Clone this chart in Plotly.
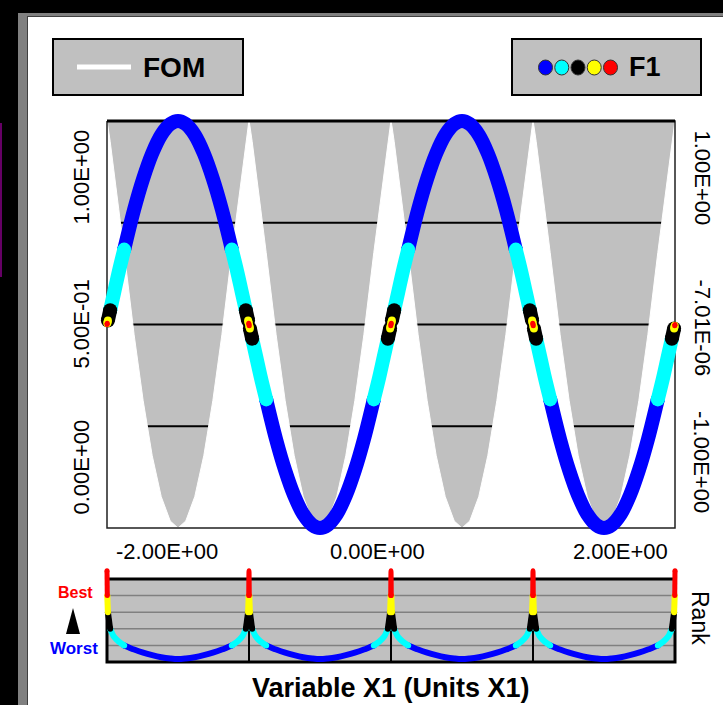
import plotly.graph_objects as go

W, H = 723, 705
FONT = "Liberation Sans, Arial, sans-serif"

# ---------------- data ----------------
x1 = [
    -3.1416, -3.1386, -3.1316, -3.1066, -3.0616, -3.0116, -2.9516, -2.8416, -2.7416, -2.6416, -2.5416, -2.4416, -2.3562,
    -2.2708, -2.1708, -2.0708, -1.9708, -1.8708, -1.7608, -1.7008, -1.6508, -1.6058, -1.5808, -1.5738,
    -1.5708, -1.5678, -1.5608, -1.5358, -1.4908, -1.4408, -1.3808, -1.2708, -1.1708, -1.0708, -0.9708, -0.8708, -0.7854,
    -0.7, -0.6, -0.5, -0.4, -0.3, -0.19, -0.13, -0.08, -0.035, -0.01, -0.003,
    0.0, 0.003, 0.01, 0.035, 0.08, 0.13, 0.19, 0.3, 0.4, 0.5, 0.6, 0.7, 0.7854,
    0.8708, 0.9708, 1.0708, 1.1708, 1.2708, 1.3808, 1.4408, 1.4908, 1.5358, 1.5608, 1.5678,
    1.5708, 1.5738, 1.5808, 1.6058, 1.6508, 1.7008, 1.7608, 1.8708, 1.9708, 2.0708, 2.1708, 2.2708, 2.3562,
    2.4416, 2.5416, 2.6416, 2.7416, 2.8416, 2.9516, 3.0116, 3.0616, 3.1066, 3.1316, 3.1386,
    3.1416,
]
f1 = [
    0.0, 0.006, 0.02, 0.07, 0.159, 0.259, 0.368, 0.565, 0.717, 0.841, 0.932, 0.985, 1.0,
    0.985, 0.932, 0.841, 0.717, 0.565, 0.368, 0.259, 0.159, 0.07, 0.02, 0.006,
    0.0, -0.006, -0.02, -0.07, -0.159, -0.259, -0.368, -0.565, -0.717, -0.841, -0.932, -0.985, -1.0,
    -0.985, -0.932, -0.841, -0.717, -0.565, -0.368, -0.259, -0.159, -0.07, -0.02, -0.006,
    0.0, 0.006, 0.02, 0.07, 0.159, 0.259, 0.368, 0.565, 0.717, 0.841, 0.932, 0.985, 1.0,
    0.985, 0.932, 0.841, 0.717, 0.565, 0.368, 0.259, 0.159, 0.07, 0.02, 0.006,
    0.0, -0.006, -0.02, -0.07, -0.159, -0.259, -0.368, -0.565, -0.717, -0.841, -0.932, -0.985, -1.0,
    -0.985, -0.932, -0.841, -0.717, -0.565, -0.368, -0.259, -0.159, -0.07, -0.02, -0.006,
    0.0,
]
fom = [
    1.0, 0.997, 0.988, 0.950, 0.875, 0.783, 0.677, 0.475, 0.313, 0.178, 0.077, 0.017, 0.0,
    0.017, 0.077, 0.178, 0.313, 0.475, 0.677, 0.783, 0.875, 0.950, 0.988, 0.997,
    1.0, 0.997, 0.988, 0.950, 0.875, 0.783, 0.677, 0.475, 0.313, 0.178, 0.077, 0.017, 0.0,
    0.017, 0.077, 0.178, 0.313, 0.475, 0.677, 0.783, 0.875, 0.950, 0.988, 0.997,
    1.0, 0.997, 0.988, 0.950, 0.875, 0.783, 0.677, 0.475, 0.313, 0.178, 0.077, 0.017, 0.0,
    0.017, 0.077, 0.178, 0.313, 0.475, 0.677, 0.783, 0.875, 0.950, 0.988, 0.997,
    1.0, 0.997, 0.988, 0.950, 0.875, 0.783, 0.677, 0.475, 0.313, 0.178, 0.077, 0.017, 0.0,
    0.017, 0.077, 0.178, 0.313, 0.475, 0.677, 0.783, 0.875, 0.950, 0.988, 0.997,
    1.0,
]
rank = [
    1.10, 0.80, 0.60, 0.40, 0.30, 0.245, 0.20, 0.15, 0.112, 0.082, 0.058, 0.042, 0.035,
    0.042, 0.058, 0.082, 0.112, 0.15, 0.20, 0.245, 0.30, 0.40, 0.60, 0.80,
    1.10, 0.80, 0.60, 0.40, 0.30, 0.245, 0.20, 0.15, 0.112, 0.082, 0.058, 0.042, 0.035,
    0.042, 0.058, 0.082, 0.112, 0.15, 0.20, 0.245, 0.30, 0.40, 0.60, 0.80,
    1.10, 0.80, 0.60, 0.40, 0.30, 0.245, 0.20, 0.15, 0.112, 0.082, 0.058, 0.042, 0.035,
    0.042, 0.058, 0.082, 0.112, 0.15, 0.20, 0.245, 0.30, 0.40, 0.60, 0.80,
    1.10, 0.80, 0.60, 0.40, 0.30, 0.245, 0.20, 0.15, 0.112, 0.082, 0.058, 0.042, 0.035,
    0.042, 0.058, 0.082, 0.112, 0.15, 0.20, 0.245, 0.30, 0.40, 0.60, 0.80,
    1.10,
]

band_colors = ["#0000FF", "#00FFFF", "#000000", "#FFFF00", "#FF0000"]   # worst -> best
band_edges = [0.2, 0.4, 0.6, 0.8]
crossings = [-1.5708, 0.0, 1.5708]

x_tick_vals = [-2.0, 0.0, 2.0]
x_tick_text = ["-2.00E+00", "0.00E+00", "2.00E+00"]
fom_tick_vals = [0.0, 0.5, 1.0]
fom_tick_text = ["0.00E+00", "5.00E-01", "1.00E+00"]
f1_tick_vals = [-1.0, 0.0, 1.0]
f1_tick_text = ["-1.00E+00", "-7.01E-06", "1.00E+00"]
fom_grid = [0.25, 0.5, 0.75]
rank_grid = [0.2, 0.4, 0.6, 0.8]

# ---------------- geometry helpers ----------------
def PX(px):
    return px / W

def PY(py):
    return 1 - py / H

XMIN, XMAX = x1[0], x1[-1]
FR_L, FR_R = 107, 675           # main frame, pixels
FR_T, FR_B = 121, 528
RK_T, RK_B = 579, 662           # rank frame
PAD = 10
sx = (FR_R - FR_L) / (XMAX - XMIN)
sy = (FR_B - FR_T) / 1.0
sr = (RK_B - RK_T) / 1.0

fig = go.Figure()

# FOM white fill
fig.add_trace(go.Scatter(x=x1, y=fom, mode="lines", fill="tozeroy", fillcolor="white",
                         line=dict(color="white", width=1), xaxis="x", yaxis="y",
                         hoverinfo="skip", showlegend=False))
# main frame (drawn over the fill, under the curve)
fig.add_trace(go.Scatter(x=[XMIN, XMAX, XMAX, XMIN, XMIN], y=[1, 1, 0, 0, 1], mode="lines",
                         line=dict(color="#202020", width=1.5), xaxis="x", yaxis="y",
                         hoverinfo="skip", showlegend=False))
fig.add_trace(go.Scatter(x=[XMIN, XMAX], y=[1, 1], mode="lines",
                         line=dict(color="black", width=3), xaxis="x", yaxis="y",
                         hoverinfo="skip", showlegend=False))
# rank frame
fig.add_trace(go.Scatter(x=[XMIN, XMAX, XMAX, XMIN, XMIN], y=[1, 1, 0, 0, 1], mode="lines",
                         line=dict(color="black", width=3), xaxis="x2", yaxis="y3",
                         hoverinfo="skip", showlegend=False))


def band_of(v):
    b = 0
    for e in band_edges:
        if v >= e - 1e-9:
            b += 1
    return b


# runs of equal band
runs = []
for i in range(len(x1) - 1):
    b = band_of(min(rank[i], rank[i + 1]))
    if runs and runs[-1][0] == b and runs[-1][2] == i:
        runs[-1][2] = i + 1
    else:
        runs.append([b, i, i + 1])

main_w = [14, 14, 14, 8, 5]
rank_w = [6, 6, 6, 6, 5]


def add_run(xs, ys, c, w, xa, ya):
    fig.add_trace(go.Scatter(x=xs, y=ys, mode="lines", line=dict(color=c, width=w, shape="spline"),
                             xaxis=xa, yaxis=ya, hoverinfo="skip", showlegend=False))
    fig.add_trace(go.Scatter(x=[xs[0], xs[-1]], y=[ys[0], ys[-1]], mode="markers",
                             marker=dict(color=c, size=w, line=dict(width=0)),
                             xaxis=xa, yaxis=ya, cliponaxis=False, hoverinfo="skip", showlegend=False))


for b in range(5):
    for rb, s, e in runs:
        if rb == b:
            add_run(x1[s:e + 1], f1[s:e + 1], band_colors[b], main_w[b], "x", "y2")
for b in range(5):
    for rb, s, e in runs:
        if rb == b:
            add_run(x1[s:e + 1], rank[s:e + 1], band_colors[b], rank_w[b], "x2", "y3")

shapes = []
# window chrome
shapes.append(dict(type="rect", xref="paper", yref="paper", x0=PX(18), x1=PX(723), y0=PY(705), y1=PY(13),
                   fillcolor="#808080", line=dict(width=0), layer="below"))
shapes.append(dict(type="rect", xref="paper", yref="paper", x0=PX(27), x1=PX(723), y0=PY(705), y1=PY(16),
                   fillcolor="#404040", line=dict(width=0), layer="below"))
shapes.append(dict(type="rect", xref="paper", yref="paper", x0=PX(28), x1=PX(723), y0=PY(705), y1=PY(17),
                   fillcolor="white", line=dict(width=0), layer="below"))
shapes.append(dict(type="rect", xref="paper", yref="paper", x0=PX(0), x1=PX(2), y0=PY(277), y1=PY(123),
                   fillcolor="#660066", line=dict(width=0), layer="below"))
# main plot gray background + grid
shapes.append(dict(type="rect", xref="x", yref="y", x0=XMIN, x1=XMAX, y0=0, y1=1,
                   fillcolor="#C0C0C0", line=dict(width=0), layer="below"))
for g in fom_grid:
    shapes.append(dict(type="line", xref="x", yref="y", x0=XMIN, x1=XMAX, y0=g, y1=g,
                       line=dict(color="black", width=2), layer="below"))
# rank panel background + grid + crossing lines
shapes.append(dict(type="rect", xref="x2", yref="y3", x0=XMIN, x1=XMAX, y0=0, y1=1,
                   fillcolor="#C0C0C0", line=dict(width=0), layer="below"))
for g in rank_grid:
    shapes.append(dict(type="line", xref="x2", yref="y3", x0=XMIN, x1=XMAX, y0=g, y1=g,
                       line=dict(color="#808080", width=1.5), layer="below"))
for cx in crossings:
    shapes.append(dict(type="line", xref="x2", yref="y3", x0=cx, x1=cx, y0=0, y1=0.45,
                       line=dict(color="black", width=2), layer="below"))
# legend boxes
for bx0, bx1 in [(53, 243), (512, 701)]:
    shapes.append(dict(type="rect", xref="paper", yref="paper", x0=PX(bx0), x1=PX(bx1), y0=PY(95), y1=PY(39),
                       fillcolor="#C0C0C0", line=dict(color="black", width=2)))
shapes.append(dict(type="line", xref="paper", yref="paper", x0=PX(77), x1=PX(131), y0=PY(67), y1=PY(67),
                   line=dict(color="white", width=5)))
for k, c in enumerate(band_colors):
    cx = 545.5 + 16.25 * k
    shapes.append(dict(type="circle", xref="paper", yref="paper", x0=PX(cx - 7), x1=PX(cx + 7),
                       y0=PY(75), y1=PY(60), fillcolor=c, line=dict(color="#333333", width=1)))
# best/worst arrow
shapes.append(dict(type="path", xref="paper", yref="paper",
                   path="M %f %f L %f %f L %f %f Z" % (PX(66), PY(634), PX(80), PY(634), PX(73), PY(608)),
                   fillcolor="black", line=dict(width=0)))

ann = []
def txt(text, x, y, size, color="black", bold=False, angle=0, xa="center", ya="middle",
        xref="paper", yref="paper", xs=0, ys=0):
    ann.append(dict(text=("<b>%s</b>" % text) if bold else text, x=x, y=y, xref=xref, yref=yref,
                    xanchor=xa, yanchor=ya, showarrow=False, textangle=angle, xshift=xs, yshift=ys,
                    font=dict(family=FONT, size=size, color=color)))

txt("FOM", PX(141), PY(67), 28, bold=True, xa="left")
txt("F1", PX(627), PY(67), 27, bold=True, xa="left")

TS = 22
# x tick labels
xa_list = ["right", "center", "left"]
xs_list = [10, -14, -1]
for v, t, a, s in zip(x_tick_vals, x_tick_text, xa_list, xs_list):
    txt(t, v, PY(551), TS, xref="x", xa=a, xs=s)
# left axis labels
ya_list = ["bottom", "middle", "top"]
ys_left = [11, 0, -7]
for v, t, a, s in zip(fom_tick_vals, fom_tick_text, ya_list, ys_left):
    txt(t, PX(81), v, TS, angle=-90, yref="y", ya=a, ys=s)
ys_right = [13, -3, -7]
for v, t, a, s in zip(f1_tick_vals, f1_tick_text, ya_list, ys_right):
    txt(t, PX(702), v, TS, angle=90, yref="y2", ya=a, ys=s)

txt("Best", PX(75), PY(592), 16, color="#FF0000", bold=True)
txt("Worst", PX(74), PY(648), 17, color="#0000FF", bold=True)
txt("Rank", PX(700), PY(618), 23, angle=90)
txt("Variable X1 (Units X1)", PX(391), PY(688), 27, bold=True)

ax_common = dict(visible=False, showgrid=False, zeroline=False, fixedrange=True)
xr = [XMIN - PAD / sx, XMAX + PAD / sx]
fig.update_layout(
    width=W, height=H, autosize=False,
    margin=dict(l=0, r=0, t=0, b=0, pad=0),
    paper_bgcolor="black", plot_bgcolor="white",
    showlegend=False,
    shapes=shapes, annotations=ann,
    xaxis=dict(domain=[PX(FR_L - PAD), PX(FR_R + PAD)], range=xr, anchor="y", **ax_common),
    yaxis=dict(domain=[PY(FR_B + PAD), PY(FR_T - PAD)], range=[-PAD / sy, 1 + PAD / sy], anchor="x", **ax_common),
    yaxis2=dict(overlaying="y", range=[-1 - 2 * PAD / sy, 1 + 2 * PAD / sy], anchor="x", **ax_common),
    xaxis2=dict(domain=[PX(FR_L - PAD), PX(FR_R + PAD)], range=xr, anchor="y3", **ax_common),
    yaxis3=dict(domain=[PY(RK_B + 6), PY(RK_T - 12)], range=[-6 / sr, 1 + 12 / sr], anchor="x2", **ax_common),
)

fig.write_html("out.html")
